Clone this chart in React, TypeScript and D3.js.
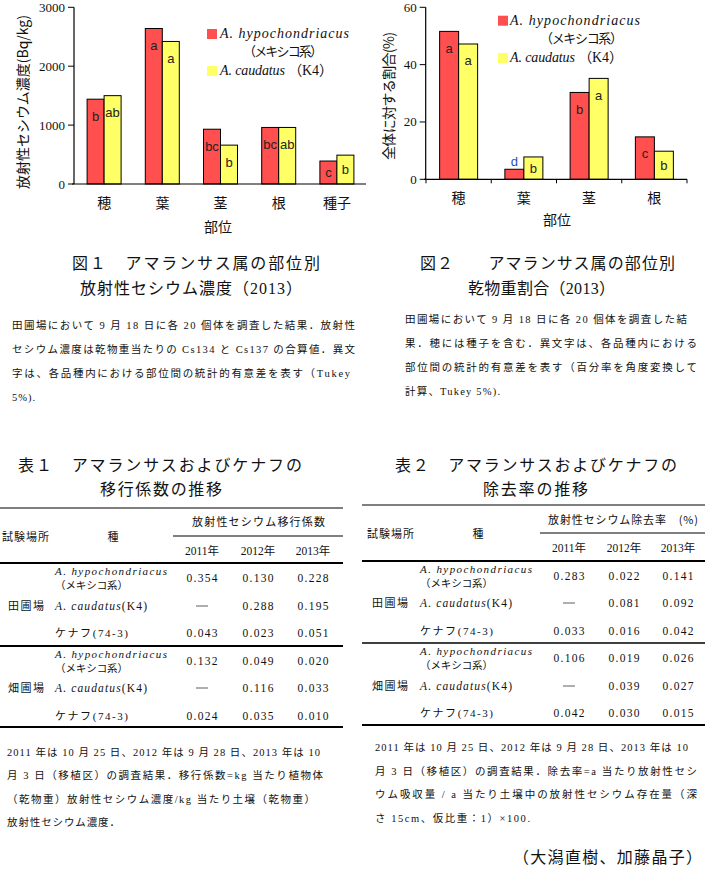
import React from "react";
import * as d3 from "d3";

// ---------- data ----------
const parts1 = ["穂", "葉", "茎", "根", "種子"];
const hypoConc = [1440, 2640, 930, 960, 390];
const caudConc = [1500, 2420, 660, 960, 490];
const hypoConcLet = ["b", "a", "bc", "bc", "c"];
const caudConcLet = ["ab", "a", "b", "ab", "b"];
const concTicks = [0, 1000, 2000, 3000];

const parts2 = ["穂", "葉", "茎", "根"];
const hypoShare = [51.6, 3.5, 30.3, 14.8];
const caudShare = [47.2, 7.8, 35.2, 9.8];
const hypoShareLet = ["a", "d", "b", "c"];
const caudShareLet = ["a", "b", "a", "b"];
const shareTicks = [0, 20, 40, 60];

const years = ["2011年", "2012年", "2013年"];
const sites = ["田圃場", "畑圃場"];
const t1Values: (number | null)[][] = [
  [0.354, 0.13, 0.228],
  [null, 0.288, 0.195],
  [0.043, 0.023, 0.051],
  [0.132, 0.049, 0.02],
  [null, 0.116, 0.033],
  [0.024, 0.035, 0.01],
];
const t2Values: (number | null)[][] = [
  [0.283, 0.022, 0.141],
  [null, 0.081, 0.092],
  [0.033, 0.016, 0.042],
  [0.106, 0.019, 0.026],
  [null, 0.039, 0.027],
  [0.042, 0.03, 0.015],
];

const RED = "#ff4f4f";
const YEL = "#ffff66";
const SERIF = "'Liberation Serif', 'Noto Sans CJK JP', serif";
const SANS = "'Liberation Sans', 'Noto Sans CJK JP', sans-serif";
const JP = "'Noto Sans CJK JP', sans-serif";
const fmt = d3.format(".3f");

type TP = {
  x: number;
  y: number;
  len?: number;
  size?: number;
  anchor?: "start" | "middle" | "end";
  family?: string;
  fill?: string;
  style?: string;
  children: React.ReactNode;
};
const T = ({ x, y, len, size = 12, anchor = "start", family = SERIF, fill = "#111", style, children }: TP) => (
  <text
    x={x}
    y={y}
    fontSize={size}
    textAnchor={anchor}
    fontFamily={family}
    fill={fill}
    fontStyle={style}
    textLength={len}
    lengthAdjust={len ? "spacing" : undefined}
  >
    {children}
  </text>
);

type BarChartProps = {
  cats: string[];
  a: number[];
  b: number[];
  la: string[];
  lb: string[];
  ticks: number[];
  yMax: number;
  x0: number;
  x1: number;
  yTop: number;
  yBot: number;
  axisX: number;
  axisStart: number;
  barW: number;
  xTicks: boolean;
  labelColor?: (s: string) => string;
};

function BarChart(p: BarChartProps) {
  const x = d3.scaleBand<string>().domain(p.cats).range([p.x0, p.x1]);
  const y = d3.scaleLinear().domain([0, p.yMax]).range([p.yBot, p.yTop]);
  const bw = x.bandwidth();
  const off = (bw - 2 * p.barW) / 2;
  const labelY = (v: number) => {
    const top = y(v);
    const h = p.yBot - top;
    if (h < 14) return top - 3;
    return Math.min(top + 17, (top + p.yBot) / 2) + 4.5;
  };
  const col = p.labelColor || (() => "#222");
  return (
    <g>
      {p.cats.map((c, i) => {
        const gx = (x(c) as number) + off;
        return (
          <g key={c}>
            <rect x={gx} y={y(p.a[i])} width={p.barW} height={p.yBot - y(p.a[i])} fill={RED} stroke="#000" strokeWidth={1} />
            <rect x={gx + p.barW} y={y(p.b[i])} width={p.barW} height={p.yBot - y(p.b[i])} fill={YEL} stroke="#000" strokeWidth={1} />
            <T x={gx + p.barW / 2} y={labelY(p.a[i])} anchor="middle" size={13} family={SANS} fill={col(p.la[i])}>
              {p.la[i]}
            </T>
            <T x={gx + p.barW * 1.5} y={labelY(p.b[i])} anchor="middle" size={13} family={SANS} fill={col(p.lb[i])}>
              {p.lb[i]}
            </T>
          </g>
        );
      })}
      <line x1={p.axisX} x2={p.axisX} y1={p.yTop} y2={p.yBot} stroke="#000" strokeWidth={1.2} />
      <line x1={p.axisStart} x2={p.x1} y1={p.yBot} y2={p.yBot} stroke="#000" strokeWidth={1.2} />
      {p.ticks.map((t) => (
        <g key={t}>
          <line x1={p.axisX - 6} x2={p.axisX} y1={y(t)} y2={y(t)} stroke="#000" strokeWidth={1} />
          <T x={p.axisX - 9} y={y(t) + 4.5} anchor="end" size={13}>
            {t}
          </T>
        </g>
      ))}
      {p.xTicks &&
        [...p.cats.map((c) => x(c) as number), p.x1].map((tx, i) => (
          <line key={i} x1={tx} x2={tx} y1={p.yBot} y2={p.yBot + 4} stroke="#000" strokeWidth={1} />
        ))}
    </g>
  );
}

const Legend = ({ sx, y1, y2, tx, mx, w1, w2, w3 }: { sx: number; y1: number; y2: number; tx: number; mx: number; w1: number; w2: number; w3: number }) => (
  <g>
    <rect x={sx} y={y1} width={10} height={10} fill={RED} />
    <text x={tx} y={y1 + 9} fontSize={14} fontFamily={SERIF} fill="#111" textLength={w1} lengthAdjust="spacing">
      <tspan fontStyle="italic">A.  hypochondriacus</tspan>
    </text>
    <T x={mx} y={y1 + 27} size={13} family={JP} len={w2}>
      （メキシコ系）
    </T>
    <rect x={sx} y={y2} width={10} height={10} fill={YEL} />
    <text x={tx} y={y2 + 9} fontSize={14} fontFamily={SERIF} fill="#111" textLength={w3} lengthAdjust="spacing">
      <tspan fontStyle="italic">A.  caudatus</tspan> （K4）
    </text>
  </g>
);

const speciesRows = (sx: number, yv: number[]) => (
  <g>
    {yv.map((yy, i) => {
      const k = i % 3;
      if (k === 0)
        return (
          <g key={i}>
            <text x={sx} y={yy - 3} fontSize={11} fontFamily={SERIF} fontStyle="italic" fill="#111" textLength={112} lengthAdjust="spacing">
              A. hypochondriacus
            </text>
            <T x={sx} y={yy + 11} size={10.5} family={JP} len={73}>
              （メキシコ系）
            </T>
          </g>
        );
      if (k === 1)
        return (
          <text key={i} x={sx} y={yy + 4} fontSize={11.5} fontFamily={SERIF} fill="#111" textLength={92} lengthAdjust="spacing">
            <tspan fontStyle="italic">A.  caudatus</tspan>(K4)
          </text>
        );
      return (
        <T key={i} x={sx} y={yy + 4} size={11} family={SERIF} len={73}>
          ケナフ(74-3)
        </T>
      );
    })}
  </g>
);

function Table(p: {
  lineL: number;
  lineR: number;
  subL: number;
  yTop: number;
  ySub: number;
  yHead: number;
  ySep: number;
  yBot: number;
  sepW: number;
  head: string;
  headX: number;
  headLen: number;
  headY: number;
  siteX: number;
  siteHeadX: number;
  speciesHeadX: number;
  headRowY: number;
  yearY: number;
  cols: number[];
  rowY: number[];
  spX: number;
  values: (number | null)[][];
}) {
  return (
    <g>
      <line x1={p.lineL} x2={p.lineR} y1={p.yTop} y2={p.yTop} stroke="#000" strokeWidth={1.2} />
      <line x1={p.subL} x2={p.lineR} y1={p.ySub} y2={p.ySub} stroke="#000" strokeWidth={1.2} />
      <line x1={p.lineL} x2={p.lineR} y1={p.yHead} y2={p.yHead} stroke="#000" strokeWidth={2.2} />
      <line x1={p.lineL} x2={p.lineR} y1={p.ySep} y2={p.ySep} stroke="#000" strokeWidth={p.sepW} />
      <line x1={p.lineL} x2={p.lineR} y1={p.yBot} y2={p.yBot} stroke="#000" strokeWidth={2.2} />
      <T x={p.headX} y={p.headY} size={11} family={JP} len={p.headLen}>
        {p.head}
      </T>
      <T x={p.siteHeadX} y={p.headRowY} size={11} family={JP} len={47}>
        試験場所
      </T>
      <T x={p.speciesHeadX} y={p.headRowY} size={11} family={JP} anchor="middle">
        種
      </T>
      {years.map((yr, j) => (
        <T key={yr} x={p.cols[j]} y={p.yearY} size={11.5} anchor="middle" family={SERIF}>
          {yr}
        </T>
      ))}
      {sites.map((s, g) => (
        <T key={s} x={p.siteX} y={p.rowY[g * 3 + 1] + 4} size={11} family={JP} len={36}>
          {s}
        </T>
      ))}
      {speciesRows(p.spX, p.rowY)}
      {p.values.map((row, i) =>
        row.map((v, j) =>
          v === null ? (
            <line key={i + "-" + j} x1={p.cols[j] - 6} x2={p.cols[j] + 6} y1={p.rowY[i]} y2={p.rowY[i]} stroke="#777" strokeWidth={1.2} />
          ) : (
            <text key={i + "-" + j} x={p.cols[j]} y={p.rowY[i] + 4} fontSize={11.5} fontFamily={SERIF} fill="#111" textAnchor="middle" textLength={31} lengthAdjust="spacing">
              {fmt(v)}
            </text>
          )
        )
      )}
    </g>
  );
}

export default function App() {
  const rows1 = [578, 606, 633, 661, 688, 716];
  const rows2 = [576, 603, 631, 658, 686, 713];
  return (
    <svg width={705} height={870} style={{ position: "absolute", left: 0, top: 0, background: "#fff" }}>
      <rect width={705} height={870} fill="#fff" />
      {/* Figure 1 */}
      <BarChart
        cats={parts1}
        a={hypoConc}
        b={caudConc}
        la={hypoConcLet}
        lb={caudConcLet}
        ticks={concTicks}
        yMax={3000}
        x0={75}
        x1={366}
        yTop={7.3}
        yBot={184}
        axisX={74}
        axisStart={72}
        barW={17}
        xTicks={false}
      />
      {parts1.map((c, i) => (
        <T key={c} x={104.2 + i * 58.2} y={208} size={14} family={JP} anchor="middle">
          {c}
        </T>
      ))}
      <T x={218} y={232} size={14} family={JP} anchor="middle">
        部位
      </T>
      <g transform="translate(28,102) rotate(-90)">
        <T x={0} y={0} size={14} family={JP} anchor="middle" len={174}>
          放射性セシウム濃度(Bq/kg)
        </T>
      </g>
      <Legend sx={207} y1={29} y2={66} tx={220} mx={243} w1={129} w2={80} w3={113} />

      {/* Figure 2 */}
      <BarChart
        cats={parts2}
        a={hypoShare}
        b={caudShare}
        la={hypoShareLet}
        lb={caudShareLet}
        ticks={shareTicks}
        yMax={60}
        x0={426}
        x1={687}
        yTop={7.3}
        yBot={179.3}
        axisX={425.7}
        axisStart={424}
        barW={19}
        xTicks={true}
        labelColor={(s) => (s === "d" ? "#1f4fc4" : "#222")}
      />
      {parts2.map((c, i) => (
        <T key={c} x={458.6 + i * 65.25} y={203} size={14} family={JP} anchor="middle">
          {c}
        </T>
      ))}
      <T x={557} y={225} size={14} family={JP} anchor="middle">
        部位
      </T>
      <g transform="translate(394,96) rotate(-90)">
        <T x={0} y={0} size={14} family={JP} anchor="middle" len={128}>
          全体に対する割合(%)
        </T>
      </g>
      <Legend sx={498} y1={15.7} y2={53} tx={510} mx={540} w1={130} w2={83} w3={113} />

      {/* Captions */}
      <T x={72} y={269} size={16} family={SERIF} len={248}>
        図１　アマランサス属の部位別
      </T>
      <T x={80} y={294} size={16} family={SERIF} len={222}>
        放射性セシウム濃度（2013）
      </T>
      <T x={12} y={329} size={10.5} len={343}>田圃場において 9 月 18 日に各 20 個体を調査した結果．放射性</T>
      <T x={12} y={353} size={10.5} len={343}>セシウム濃度は乾物重当たりの Cs134 と Cs137 の合算値．異文</T>
      <T x={12} y={377} size={10.5} len={338}>字は、各品種内における部位間の統計的有意差を表す（Tukey</T>
      <T x={12} y={401} size={10.5} len={23}>5%).</T>

      <T x={420} y={269} size={16} family={SERIF} len={255}>
        図２　　アマランサス属の部位別
      </T>
      <T x={468} y={294} size={16} family={SERIF} len={147}>
        乾物重割合（2013）
      </T>
      <T x={405} y={323} size={10.5} len={282}>田圃場において 9 月 18 日に各 20 個体を調査した結</T>
      <T x={405} y={347} size={10.5} len={292}>果．穂には種子を含む．異文字は、各品種内における</T>
      <T x={405} y={371} size={10.5} len={292}>部位間の統計的有意差を表す（百分率を角度変換して</T>
      <T x={405} y={395} size={10.5} len={95}>計算、Tukey 5%).</T>

      {/* Table titles */}
      <T x={18} y={471} size={16} family={SERIF} len={284}>
        表１　アマランサスおよびケナフの
      </T>
      <T x={100} y={495} size={16} family={SERIF} len={122}>
        移行係数の推移
      </T>
      <T x={395} y={471} size={16} family={SERIF} len={282}>
        表２　アマランサスおよびケナフの
      </T>
      <T x={483} y={495} size={16} family={SERIF} len={105}>
        除去率の推移
      </T>

      <Table
        lineL={0}
        lineR={343}
        subL={173}
        yTop={508}
        ySub={536}
        yHead={563}
        ySep={646}
        yBot={727}
        sepW={2.2}
        head="放射性セシウム移行係数"
        headX={192}
        headLen={133}
        headY={526}
        siteX={8}
        siteHeadX={2}
        speciesHeadX={113}
        headRowY={541}
        yearY={555}
        cols={[202, 258, 313]}
        rowY={rows1}
        spX={55}
        values={t1Values}
      />
      <Table
        lineL={362}
        lineR={705}
        subL={540}
        yTop={505}
        ySub={533}
        yHead={561}
        ySep={643}
        yBot={725}
        sepW={1.4}
        head="放射性セシウム除去率　(%)"
        headX={548}
        headLen={150}
        headY={524}
        siteX={372}
        siteHeadX={367}
        speciesHeadX={478}
        headRowY={538}
        yearY={552}
        cols={[569, 624, 678]}
        rowY={rows2}
        spX={420}
        values={t2Values}
      />

      {/* Footnotes */}
      <T x={7} y={756} size={10.5} len={313}>2011 年は 10 月 25 日、2012 年は 9 月 28 日、2013 年は 10</T>
      <T x={7} y={779} size={10.5} len={316}>月 3 日（移植区）の調査結果．移行係数=kg 当たり植物体</T>
      <T x={7} y={803} size={10.5} len={308}>（乾物重）放射性セシウム濃度/kg 当たり土壌（乾物重）</T>
      <T x={7} y={826} size={10.5} len={113}>放射性セシウム濃度．</T>

      <T x={375} y={751} size={10.5} len={313}>2011 年は 10 月 25 日、2012 年は 9 月 28 日、2013 年は 10</T>
      <T x={375} y={775} size={10.5} len={322}>月 3 日（移植区）の調査結果．除去率=a 当たり放射性セシ</T>
      <T x={375} y={798} size={10.5} len={322}>ウム吸収量 / a 当たり土壌中の放射性セシウム存在量（深</T>
      <T x={375} y={822} size={10.5} len={155}>さ 15cm、仮比重：1）×100.</T>

      <T x={513} y={863} size={16} family={SERIF} len={189}>
        （大潟直樹、加藤晶子）
      </T>
    </svg>
  );
}
